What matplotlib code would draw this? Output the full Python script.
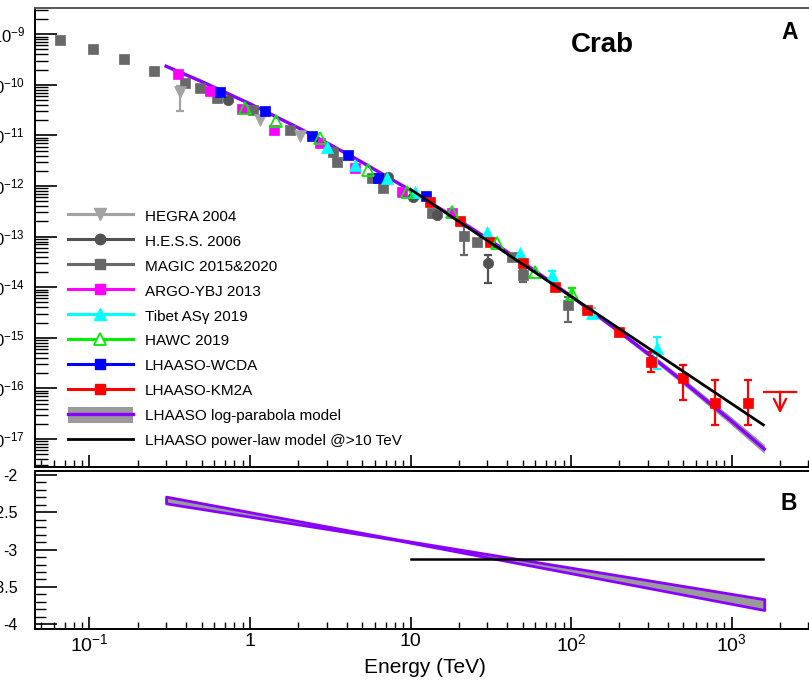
import numpy as np
import matplotlib
matplotlib.use('Agg')
import matplotlib.pyplot as plt
from matplotlib.lines import Line2D
from matplotlib.patches import Patch
from matplotlib.legend_handler import HandlerTuple
from matplotlib.ticker import (LogLocator, FixedLocator, FuncFormatter,
                               NullFormatter, MultipleLocator, FixedFormatter)

plt.rcParams['font.family'] = ['Liberation Sans', 'DejaVu Sans']
plt.rcParams['mathtext.fontset'] = 'custom'
plt.rcParams['mathtext.rm'] = 'Liberation Sans'
plt.rcParams['mathtext.it'] = 'Liberation Sans:italic'
plt.rcParams['mathtext.bf'] = 'Liberation Sans:bold'

# ---------------- data (E in TeV, flux E dN/dE in cm^-2 s^-1) ----------------
hegra_E = [0.366, 1.155, 2.05]
hegra_F = [7.31e-11, 2.01e-11, 9.77e-12]
hegra_lo = [0.39, 0.0, 0.0]
hegra_hi = [0.12, 0.0, 0.0]

hess_E = [0.733, 7.27, 10.4, 14.6, 30.5]
hess_F = [5.01e-11, 1.53e-12, 6.17e-13, 2.67e-13, 2.95e-14]
hess_lo = [0.0, 0.0, 0.0, 0.0, 0.39]
hess_hi = [0.0, 0.0, 0.0, 0.0, 0.16]

magic_E = [0.0655, 0.105, 0.164, 0.252, 0.394, 0.488, 0.623, 1.044, 1.775,
           3.29, 3.48, 5.75, 6.74, 13.6, 21.5, 25.9, 42.9, 50.2, 95.8]
magic_F = [7.67e-10, 5.04e-10, 3.19e-10, 1.87e-10, 1.10e-10, 8.53e-11, 5.41e-11,
           3.18e-11, 1.28e-11, 4.76e-12, 3.02e-12, 1.42e-12, 9.0e-13, 2.88e-13,
           1.03e-13, 7.9e-14, 4.0e-14, 1.74e-14, 4.45e-15]
magic_lo = [0, 0, 0, 0, 0, 0, 0, 0, 0, 0, 0, 0, 0, 0, 0.38, 0, 0, 0.13, 0.33]
magic_hi = [0, 0, 0, 0, 0, 0, 0, 0, 0, 0, 0, 0, 0, 0, 0.20, 0, 0, 0.10, 0.15]

argo_E = [0.357, 0.563, 0.888, 1.417, 2.73, 4.51, 8.81, 18.1]
argo_F = [1.63e-10, 7.64e-11, 3.28e-11, 1.28e-11, 6.98e-12, 2.24e-12, 7.71e-13, 2.88e-13]

tibet_E = [3.0, 4.51, 7.1, 10.7, 29.8, 48.1, 75.8, 136, 342]
tibet_F = [5.82e-12, 2.60e-12, 1.42e-12, 7.71e-13, 1.25e-13, 4.68e-14, 1.74e-14,
           3.05e-15, 6.19e-16]
tibet_lo = [0, 0, 0, 0, 0, 0, 0.08, 0.10, 0.40]
tibet_hi = [0, 0, 0, 0, 0, 0, 0.08, 0.10, 0.23]

hawc_E = [0.93, 1.45, 2.73, 5.46, 9.47, 18.1, 34.4, 59.7, 101]
hawc_F = [3.52e-11, 1.95e-11, 8.77e-12, 2.07e-12, 7.71e-13, 3.11e-13, 7.38e-14,
          2.02e-14, 7.35e-15]
hawc_lo = [0, 0, 0, 0, 0, 0, 0, 0, 0.12]
hawc_hi = [0, 0, 0, 0, 0, 0, 0, 0, 0.12]

wcda_E = [0.65, 1.24, 2.42, 4.10, 6.30, 12.5]
wcda_F = [7.31e-11, 3.08e-11, 9.73e-12, 4.10e-12, 1.42e-12, 6.34e-13]

km2a_E = [13.2, 20.3, 31.3, 50.4, 79.5, 125, 199, 314, 501, 789, 1262]
km2a_F = [4.90e-13, 2.05e-13, 7.93e-14, 2.96e-14, 1.02e-14, 3.54e-15, 1.32e-15,
          3.37e-16, 1.58e-16, 5.21e-17, 5.21e-17]
km2a_lo = [0, 0, 0, 0, 0, 0, 0, 0.20, 0.43, 0.44, 0.44]
km2a_hi = [0, 0, 0, 0, 0, 0, 0, 0.20, 0.26, 0.45, 0.45]

km2a_ul_E = 2005
km2a_ul_F = 8.61e-17

# LHAASO log-parabola model (panel A) with band half-width in dex
model_E = [0.3, 0.5, 1, 2, 3, 5, 10, 20, 30, 50, 100, 200, 300, 500, 1000, 1600]
model_F = [2.33e-10, 1.16e-10, 4.21e-11, 1.41e-11, 7.18e-12, 2.94e-12, 8.20e-13,
           2.11e-13, 9.23e-14, 3.11e-14, 6.67e-15, 1.32e-15, 4.93e-16, 1.37e-16,
           2.26e-17, 6.35e-18]
model_dex = [0.03, 0.025, 0.02, 0.015, 0.012, 0.01, 0.01, 0.012, 0.015, 0.02,
             0.03, 0.045, 0.055, 0.065, 0.08, 0.09]

# LHAASO power-law model > 10 TeV (panel A)
pl_E = [10, 1580]
pl_F = [8.6e-13, 1.9e-17]

# Panel B: spectral index
idx_band_E = [0.3, 8, 1600]
idx_band_hi = [-2.29, -2.858, -3.665]
idx_band_lo = [-2.38, -2.868, -3.81]
pl_idx_E = [10, 1580]
pl_idx = [-3.12, -3.12]

xtick_vals = [0.1, 1, 10, 100, 1000]
xtick_labels = ['$10^{-1}$', '1', '10', '$10^{2}$', '$10^{3}$']

legend_labels = ['HEGRA 2004', 'H.E.S.S. 2006', 'MAGIC 2015&2020', 'ARGO-YBJ 2013',
                 'Tibet AS\u03b3 2019', 'HAWC 2019', 'LHAASO-WCDA', 'LHAASO-KM2A',
                 'LHAASO log-parabola model', 'LHAASO power-law model @>10 TeV']

# ---------------- styles ----------------
C_HEGRA = '#a3a3a3'
C_HESS = '#525252'
C_MAGIC = '#686868'
C_ARGO = '#ff00ff'
C_TIBET = '#00ffff'
C_HAWC = '#00ee00'
C_WCDA = '#0000ff'
C_KM2A = '#ff0000'
C_PURPLE = '#8a00ff'
C_BAND = '#9a9a9a'

W, H = 809, 680
PXDEC = 160.5
xmin_log = (35 - 250) / PXDEC
xmax_log = 3.7

fig = plt.figure(figsize=(W / 100, H / 100), dpi=100)
width_frac = (xmax_log - xmin_log) * PXDEC / W
axA = fig.add_axes([35 / W, 1 - 467 / H, width_frac, (467 - 8) / H])
axB = fig.add_axes([35 / W, 1 - 629 / H, width_frac, (629 - 471) / H])

for ax in (axA, axB):
    ax.set_xscale('log')
    ax.set_xlim(10 ** xmin_log, 10 ** xmax_log)
    for s in ax.spines.values():
        s.set_linewidth(1.4)
    ax.xaxis.set_major_locator(FixedLocator(xtick_vals))
    ax.xaxis.set_minor_locator(LogLocator(base=10, subs=np.arange(2, 10), numticks=100))
    ax.xaxis.set_minor_formatter(NullFormatter())
    ax.tick_params(axis='x', which='major', direction='in', length=9, width=1.2,
                   top=False)
    ax.tick_params(axis='x', which='minor', direction='in', length=5, width=1.0,
                   top=False)
    ax.tick_params(axis='y', which='both', direction='in', right=False)

axA.spines['top'].set_color('#555555')

# ---- panel A ----
axA.set_yscale('log')
ylo_log = -9 - (467 - 34.2) / 50.6
yhi_log = -9 + (34.2 - 8) / 50.6
axA.set_ylim(10 ** ylo_log, 10 ** yhi_log)
axA.yaxis.set_major_locator(LogLocator(base=10, numticks=100))
axA.yaxis.set_minor_locator(LogLocator(base=10, subs=np.arange(2, 10), numticks=100))
axA.yaxis.set_minor_formatter(NullFormatter())
axA.tick_params(axis='y', which='major', length=16, width=1.2, labelsize=12, pad=7)
axA.tick_params(axis='y', which='minor', length=9, width=1.0)
axA.tick_params(axis='x', labelbottom=False)

mE = np.array(model_E)
mF = np.array(model_F)
md = np.array(model_dex)
axA.fill_between(mE, mF * 10 ** (-md), mF * 10 ** md, color=C_BAND, lw=0, zorder=2)
axA.plot(mE, mF, color=C_PURPLE, lw=2.4, zorder=3)


def draw(ax, E, F, color, marker, ms, lo=None, hi=None, mfc=None, z=5):
    E = np.array(E, float)
    F = np.array(F, float)
    if lo is not None:
        lo = np.array(lo, float)
        hi = np.array(hi, float)
        m = (lo > 0) | (hi > 0)
        if m.any():
            yerr = [F[m] - F[m] * 10 ** (-lo[m]), F[m] * 10 ** hi[m] - F[m]]
            ax.errorbar(E[m], F[m], yerr=yerr, fmt='none', ecolor=color,
                        elinewidth=1.6, capsize=3, capthick=1.6, zorder=z - 1)
    ax.plot(E, F, ls='none', marker=marker, ms=ms, color=color,
            mfc=(color if mfc is None else mfc), mec=color,
            mew=(1.3 if mfc is not None else 0.5), zorder=z)


draw(axA, magic_E, magic_F, C_MAGIC, 's', 7, magic_lo, magic_hi)
draw(axA, hegra_E, hegra_F, C_HEGRA, 'v', 8, hegra_lo, hegra_hi)
draw(axA, hess_E, hess_F, C_HESS, 'o', 7.5, hess_lo, hess_hi)
draw(axA, argo_E, argo_F, C_ARGO, 's', 7)
draw(axA, wcda_E, wcda_F, C_WCDA, 's', 7.5)
draw(axA, tibet_E, tibet_F, C_TIBET, '^', 8, tibet_lo, tibet_hi)
draw(axA, hawc_E, hawc_F, C_HAWC, '^', 8, hawc_lo, hawc_hi, mfc='none', z=6)
draw(axA, km2a_E, km2a_F, C_KM2A, 's', 7.5, km2a_lo, km2a_hi)

# upper limit
axA.plot([km2a_ul_E * 10 ** -0.097, km2a_ul_E * 10 ** 0.097], [km2a_ul_F, km2a_ul_F],
         color=C_KM2A, lw=1.6, zorder=5)
axA.annotate('', xy=(km2a_ul_E, km2a_ul_F * 10 ** -0.43), xytext=(km2a_ul_E, km2a_ul_F),
             arrowprops=dict(arrowstyle='->', color=C_KM2A, lw=1.6,
                             mutation_scale=22, shrinkA=0, shrinkB=0), zorder=5)

axA.plot(pl_E, pl_F, color='black', lw=2.0, zorder=8)

# legend
handles = [
    Line2D([], [], color=C_HEGRA, lw=2.2, marker='v', ms=8, mec=C_HEGRA),
    Line2D([], [], color=C_HESS, lw=2.2, marker='o', ms=7.5, mec=C_HESS),
    Line2D([], [], color=C_MAGIC, lw=2.2, marker='s', ms=7, mec=C_MAGIC),
    Line2D([], [], color=C_ARGO, lw=2.2, marker='s', ms=7, mec=C_ARGO),
    Line2D([], [], color=C_TIBET, lw=2.2, marker='^', ms=8, mec=C_TIBET),
    Line2D([], [], color=C_HAWC, lw=2.2, marker='^', ms=8, mfc='white', mec=C_HAWC, mew=1.3),
    Line2D([], [], color=C_WCDA, lw=2.2, marker='s', ms=7.5, mec=C_WCDA),
    Line2D([], [], color=C_KM2A, lw=2.2, marker='s', ms=7.5, mec=C_KM2A),
    (Patch(facecolor=C_BAND, edgecolor='none'), Line2D([], [], color=C_PURPLE, lw=2.4)),
    Line2D([], [], color='black', lw=2.0),
]
leg = axA.legend(handles, legend_labels, loc='upper left',
                 bbox_to_anchor=(68 / W, 1 - 208 / H), bbox_transform=fig.transFigure,
                 frameon=False, fontsize=11, handlelength=4.25, handleheight=1.18,
                 handletextpad=0.78, labelspacing=0.59, borderpad=0, borderaxespad=0,
                 handler_map={tuple: HandlerTuple(ndivide=1)})
leg.set_zorder(10)

fig.text(602 / W, 1 - 45 / H, 'Crab', fontsize=20, fontweight='bold',
         ha='center', va='center')
fig.text(790 / W, 1 - 32.5 / H, 'A', fontsize=16.5, fontweight='bold',
         ha='center', va='center')

# ---- panel B ----
blo = -2 - (629 - 475) / 74.6
bhi = -2 + (475 - 471) / 74.6
axB.set_ylim(blo, bhi)
axB.yaxis.set_major_locator(MultipleLocator(0.5))
axB.yaxis.set_minor_locator(MultipleLocator(0.1))
axB.yaxis.set_major_formatter(FuncFormatter(lambda v, p: '%g' % v))
axB.tick_params(axis='y', which='major', length=16, width=1.2, labelsize=11.5, pad=12.5)
axB.tick_params(axis='y', which='minor', length=8, width=1.0)
axB.xaxis.set_major_formatter(FixedFormatter(xtick_labels))
axB.tick_params(axis='x', which='major', labelsize=14, pad=3)

axB.fill_between(idx_band_E, idx_band_lo, idx_band_hi, facecolor=C_BAND,
                 edgecolor=C_PURPLE, lw=2.0, zorder=3)
axB.plot(pl_idx_E, pl_idx, color='black', lw=1.8, zorder=4)

fig.text(788.5 / W, 1 - 503.5 / H, 'B', fontsize=16.5, fontweight='bold',
         ha='center', va='center')
fig.text(425 / W, 1 - 673 / H, 'Energy (TeV)', fontsize=15, ha='center', va='baseline')

fig.savefig('out.png', dpi=100)
